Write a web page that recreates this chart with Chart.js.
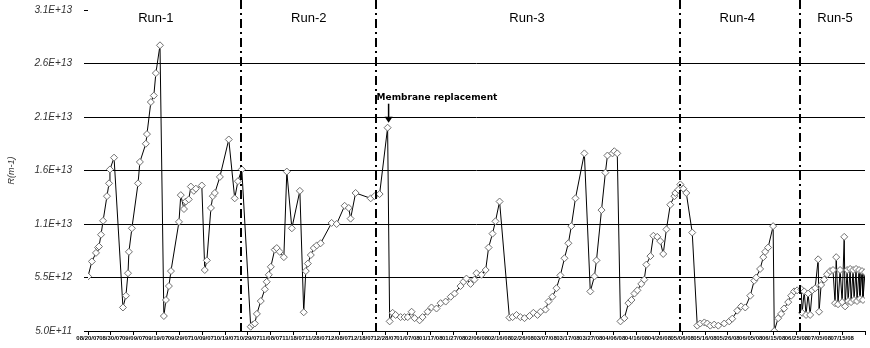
<!DOCTYPE html>
<html>
<head>
<meta charset="utf-8">
<script src="https://cdn.jsdelivr.net/npm/chart.js@4"></script>
<style>
  html, body { margin: 0; padding: 0; background: #fff; }
  #wrap { width: 870px; height: 348px; }
</style>
</head>
<body>
<div id="wrap"><canvas id="r_chart" width="870" height="348"></canvas></div>
<script>
'use strict';

// days since start of operation
const days = [
    0, 1.7, 3.5, 4.4, 4.8, 5.7, 6.6, 8.3, 9.2, 9.6, 11.4,
    15.3, 16.6, 17.5, 17.9, 19.2, 21.9, 22.7, 25.3, 25.8, 27.5, 28.8, 29.7, 31.5,
    33.2, 34.1, 35.4, 36.3, 39.8, 40.6, 42.0, 42.8, 44.1, 45.0, 46.3, 47.2, 49.8,
    51.1, 52.0, 53.8, 54.6, 55.5, 57.7, 61.6, 64.2, 65.6, 67.3,
    71.2, 72.1, 73.0, 73.9, 75.6, 77.4, 78.2, 79.1, 80.0, 81.7, 82.6, 83.9, 85.7,
    87.0, 89.2, 92.7, 94.4, 95.3, 96.2, 97.5, 98.8, 100.1, 101.8, 106.6, 108.8,
    112.3, 114.1, 114.9, 117.1, 123.7, 125.4, 127.6,
    131.1, 132.0, 133.3, 134.6, 136.8, 138.5, 139.9, 141.6, 142.9, 145.1, 146.4,
    148.6, 150.3, 152.5, 154.3, 156.5, 158.7, 160.4, 163.0, 164.3, 165.6, 167.4,
    169.1, 170.0, 172.2, 174.0, 175.3, 177.0, 178.3, 180.1,
    184.4, 185.8, 187.5, 189.2, 191.0, 193.2, 194.9, 196.7, 198.0, 200.2, 201.5,
    203.2, 205.0, 206.7, 208.5, 210.2, 211.5, 213.3, 217.2,
    219.8, 221.6, 222.5, 224.7, 226.4, 227.3, 229.5, 230.3, 231.6,
    233.0, 234.7, 236.5, 237.8, 239.1, 240.4, 242.1, 243.4, 244.3, 246.1, 247.4,
    249.1, 250.4, 251.7, 253.1, 254.8, 256.6, 257.0, 258.3, 259.2,
    260.5, 261.8, 264.4, 266.6, 267.9, 269.7, 271.0, 272.3, 274.0, 275.8, 278.4,
    280.6, 281.9, 284.1, 285.8, 287.6, 289.8, 291.5, 292.4, 294.1, 295.5, 296.3,
    297.6, 299.8, 300.3, 302.0, 303.3, 304.6, 306.4, 307.7, 309.0, 310.3, 312.1,
    312.5, 313.4, 314.2, 315.1, 316.0, 316.9, 318.2, 319.5, 319.9, 320.8, 322.1,
    323.4, 324.7, 326.0, 326.9, 327.4, 328.2, 329.1, 330.0, 330.9, 331.3, 332.2,
    332.6, 333.5, 333.9, 334.8, 335.2, 336.1, 336.5, 337.4, 337.8, 338.7, 339.1, 340.0
];

// resistance, in units of 1E+12 m-1
const resistance = [
    5.6, 7.0, 7.8, 8.3, 8.4, 9.5, 10.8, 13.1, 14.3, 15.6, 16.7,
    2.7, 3.8, 5.9, 7.9, 10.1, 14.3, 16.3, 18.0, 18.9, 21.9, 22.5, 24.6, 27.2,
    1.9, 3.4, 4.7, 6.1, 10.7, 13.2, 11.9, 12.6, 12.8, 14.0, 13.6, 13.8, 14.1,
    6.2, 7.1, 12.0, 13.1, 13.4, 14.9, 18.4, 12.9, 14.5, 15.6,
    0.9, 1.1, 1.2, 2.1, 3.3, 4.4, 5.1, 5.75, 6.5, 8.1, 8.25, 7.9, 7.4,
    15.4, 10.1, 13.6, 2.25, 6.1, 6.8, 7.6, 8.25, 8.5, 8.7, 10.6, 10.5,
    12.2, 12.0, 11.0, 13.4, 12.9, 13.1, 13.3,
    19.5, 1.4, 2.2, 2.0, 1.8, 1.8, 1.8, 2.3, 1.7, 1.5, 1.8,
    2.3, 2.7, 2.6, 3.1, 3.25, 3.7, 4.0, 4.7, 5.1, 5.4, 4.9,
    5.3, 5.9, 5.75, 6.2, 8.3, 9.6, 10.75, 12.6,
    1.75, 1.8, 2.0, 1.8, 1.7, 1.9, 2.2, 2.0, 2.3, 2.5, 3.25,
    3.7, 4.5, 5.7, 7.3, 8.7, 10.3, 12.9, 17.1,
    4.2, 5.6, 7.1, 11.8, 15.3, 16.9, 17.1, 17.3, 17.1,
    1.4, 1.7, 3.1, 3.4, 4.0, 4.3, 4.9, 5.3, 6.7, 7.5, 9.4,
    9.3, 8.9, 7.7, 10.0, 12.3, 13.1, 13.4, 13.7, 14.2,
    13.8, 13.4, 9.7, 1.0, 1.2, 1.3, 1.2, 1.0, 1.1, 1.0, 1.2,
    1.4, 1.65, 2.4, 2.8, 2.7, 3.8, 5.2, 5.5, 6.3, 7.4, 7.9,
    8.3, 10.3, 0.5, 1.7, 2.1, 2.6, 3.2, 3.8, 4.2, 4.3, 4.4,
    2.2, 4.2, 2.0, 4.0, 2.0, 4.3, 4.5, 7.2, 2.3, 4.8, 5.3,
    5.8, 6.1, 6.2, 3.1, 7.4, 3.0, 6.2, 3.2, 9.3, 2.8, 6.2,
    3.3, 6.3, 3.2, 6.2, 3.4, 6.3, 3.3, 6.2, 3.5, 6.1, 3.4, 6.0
];

const y_labels = ['5.0E+11', '5.5E+12', '1.1E+13', '1.6E+13', '2.1E+13', '2.6E+13', '3.1E+13'];

const date_labels = [
    '08/20/07', '08/30/07', '09/09/07', '09/19/07', '09/29/07', '10/09/07', '10/19/07',
    '10/29/07', '11/08/07', '11/18/07', '11/28/07', '12/08/07', '12/18/07', '12/28/07',
    '01/07/08', '01/17/08', '01/27/08', '02/06/08', '02/16/08', '02/26/08', '03/07/08',
    '03/17/08', '03/27/08', '04/06/08', '04/16/08', '04/26/08', '05/06/08', '05/16/08',
    '05/26/08', '06/05/08', '06/15/08', '06/25/08', '07/05/08', '07/15/08', ''
];

const run_names = ['Run-1', 'Run-2', 'Run-3', 'Run-4', 'Run-5'];
const run_centers = [29.7, 96.6, 192.1, 284.1, 326.9];
const run_bounds = [66.9, 125.9, 259.2, 311.6];

// membrane replacement point
const membrane_day = 131.1;
const membrane_val = 19.5;

const points = days.map((d, i) => ({ x: d, y: resistance[i] }));

const runs_plugin = {
    id: 'runs',
    afterDatasetsDraw(chart) {
        const ctx = chart.ctx;
        const xs = chart.scales.x;
        const ys = chart.scales.y;
        const area = chart.chartArea;
        ctx.save();

        // dash-dot run boundaries
        ctx.strokeStyle = '#000';
        ctx.lineWidth = 2;
        ctx.setLineDash([9, 4, 2, 4]);
        run_bounds.forEach(d => {
            const px = Math.round(xs.getPixelForValue(d));
            ctx.beginPath();
            ctx.moveTo(px, 0);
            ctx.lineTo(px, area.bottom);
            ctx.stroke();
        });
        ctx.setLineDash([]);

        // run names
        ctx.fillStyle = '#000';
        ctx.font = '13px "Liberation Sans", Arial, sans-serif';
        ctx.textAlign = 'center';
        ctx.textBaseline = 'middle';
        run_names.forEach((name, i) => {
            ctx.fillText(name, xs.getPixelForValue(run_centers[i]), 18);
        });

        // membrane replacement annotation
        const mx = xs.getPixelForValue(membrane_day);
        const my = ys.getPixelForValue(membrane_val);
        ctx.font = 'bold 9px "DejaVu Sans", sans-serif';
        ctx.textAlign = 'left';
        ctx.fillText('Membrane replacement', mx - 11, my - 30);
        ctx.lineWidth = 1.5;
        ctx.beginPath();
        ctx.moveTo(mx + 1, my - 24);
        ctx.lineTo(mx + 1, my - 8);
        ctx.stroke();
        ctx.beginPath();
        ctx.moveTo(mx - 3, my - 11);
        ctx.lineTo(mx + 5, my - 11);
        ctx.lineTo(mx + 1, my - 5);
        ctx.closePath();
        ctx.fill();
        ctx.restore();
    }
};

new Chart(document.getElementById('r_chart'), {
    type: 'line',
    data: {
        datasets: [{
            data: points,
            borderColor: '#000',
            borderWidth: 1,
            pointStyle: 'rectRot',
            pointRadius: 3.5,
            pointBorderColor: '#6e6e6e',
            pointBackgroundColor: '#fff',
            pointBorderWidth: 1,
            tension: 0,
        }],
    },
    options: {
        responsive: false,
        animation: false,
        layout: { padding: { top: 10, right: -2, left: 0, bottom: 0 } },
        plugins: {
            legend: { display: false },
            tooltip: { enabled: false },
        },
        scales: {
            x: {
                type: 'linear',
                min: 0,
                max: 340,
                afterFit: s => { s.height = 17; s.paddingLeft = 0; s.paddingRight = 0; },
                border: { display: true, color: '#000', width: 1 },
                grid: { drawOnChartArea: false, color: '#000', tickLength: 4 },
                ticks: {
                    stepSize: 10,
                    autoSkip: false,
                    maxRotation: 0,
                    padding: 0,
                    color: '#000',
                    font: { size: 6, weight: 'bold', family: '"Liberation Sans", Arial' },
                    callback: (v, i) => date_labels[i],
                },
            },
            y: {
                min: 0.5,
                max: 30.5,
                afterFit: s => { s.width = 88; s.paddingTop = 0; s.paddingBottom = 0; },
                border: { display: false },
                grid: {
                    color: c => (c.index === 0 || c.index === 6) ? 'rgba(0,0,0,0)' : '#000',
                    tickColor: '#000',
                    tickLength: 4,
                    lineWidth: 1,
                },
                ticks: {
                    stepSize: 5,
                    padding: 12,
                    color: '#333',
                    font: { size: 10, style: 'italic', family: '"Liberation Sans", Arial' },
                    callback: (v, i) => y_labels[i],
                },
                title: {
                    display: true,
                    text: 'R(m-1)',
                    color: '#333',
                    padding: { top: 6, bottom: 4 },
                    font: { size: 9, style: 'italic', family: '"Liberation Sans", Arial' },
                },
            },
        },
    },
    plugins: [runs_plugin],
});
</script>
</body>
</html>
